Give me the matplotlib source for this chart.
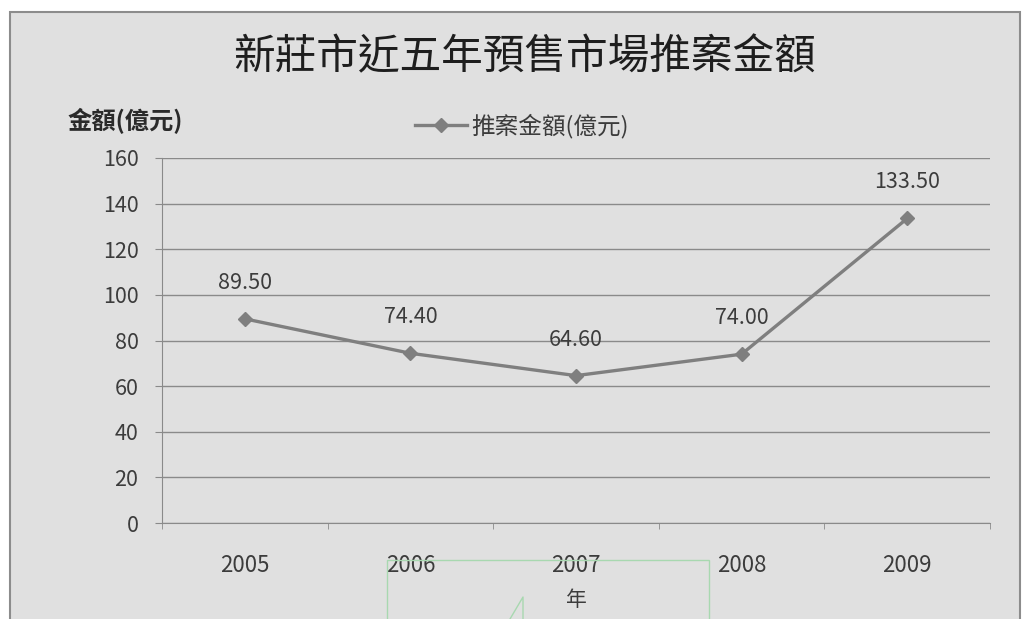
import matplotlib
matplotlib.use("Agg")
from matplotlib import pyplot as plt
from matplotlib.patches import Rectangle
from matplotlib.lines import Line2D

plt.rcParams['font.family'] = ['Noto Sans CJK TC', 'DejaVu Sans']

years = ["2005", "2006", "2007", "2008", "2009"]
amounts = [89.50, 74.40, 64.60, 74.00, 133.50]
series_name = "推案金額(億元)"
title = "新莊市近五年預售市場推案金額"

W, H = 1028, 619
bg = "#e0e0e0"
text_c = "#3c3c3c"
line_c = "#7f7f7f"

fig = plt.figure(figsize=(W / 100, H / 100), dpi=100)
fig.patch.set_facecolor("white")

# gray chart frame
fig.add_artist(Rectangle((10 / W, -0.02), 1010 / W, 1.02 - 12 / H,
                         transform=fig.transFigure, facecolor=bg,
                         edgecolor="#8c8c8c", lw=1.5, zorder=0))

ax = fig.add_axes([162 / W, 1 - 523 / H, 828 / W, 365 / H])
ax.set_facecolor(bg)

x = list(range(len(years)))
ax.plot(x, amounts, color=line_c, lw=2.4, marker="D", markersize=7,
        markerfacecolor=line_c, markeredgecolor=line_c, label=series_name,
        zorder=3)
for xi, v in zip(x, amounts):
    ax.annotate(f"{v:.2f}", (xi, v), xytext=(0, 26), textcoords="offset points",
                ha="center", va="center", fontsize=15.5, color=text_c)

ax.set_xlim(-0.5, 4.5)
ax.set_ylim(0, 160)
ax.set_yticks(range(0, 161, 20))
ax.set_xticks(x)
ax.set_xticklabels(years)
ax.set_xticks([i - 0.5 for i in range(6)], minor=True)
ax.tick_params(axis="x", which="major", length=0, pad=22, labelsize=16,
               labelcolor=text_c)
ax.tick_params(axis="x", which="minor", length=4, color="#8a8a8a")
ax.tick_params(axis="y", length=5, pad=12, labelsize=15.5, labelcolor=text_c,
               color="#8a8a8a")
ax.grid(axis="y", color="#8a8a8a", lw=1)
ax.set_axisbelow(True)
for s in ["top", "right"]:
    ax.spines[s].set_visible(False)
for s in ["left", "bottom"]:
    ax.spines[s].set_color("#8a8a8a")

ax.set_xlabel("年", fontsize=15, color=text_c, labelpad=9)

fig.text(525 / W, 1 - 58 / H, title, ha="center", va="center", fontsize=30,
         color="#1e1e1e")
fig.text(68 / W, 1 - 121 / H, "金額(億元)", ha="left", va="center",
         fontsize=17.5, fontweight="bold", color="#2a2a2a")

leg = fig.legend(loc="center", bbox_to_anchor=(522 / W, 1 - 126 / H),
                 frameon=False, fontsize=17, handlelength=2.2,
                 handletextpad=0.2, labelcolor=text_c)

# green outline of a text box laid over the lower part
fig.add_artist(Rectangle((387 / W, -0.02), 322 / W, 0.02 + 59 / H,
                         transform=fig.transFigure, fill=False,
                         edgecolor="#a8d8b0", lw=1, zorder=5))
fig.add_artist(Line2D([510 / W, 523 / W, 523 / W],
                      [1 - 619 / H, 1 - 597 / H, 1 - 619 / H],
                      transform=fig.transFigure, color="#a8d8b0", lw=1,
                      zorder=5))

fig.savefig("out.png", dpi=100, facecolor=fig.get_facecolor())
